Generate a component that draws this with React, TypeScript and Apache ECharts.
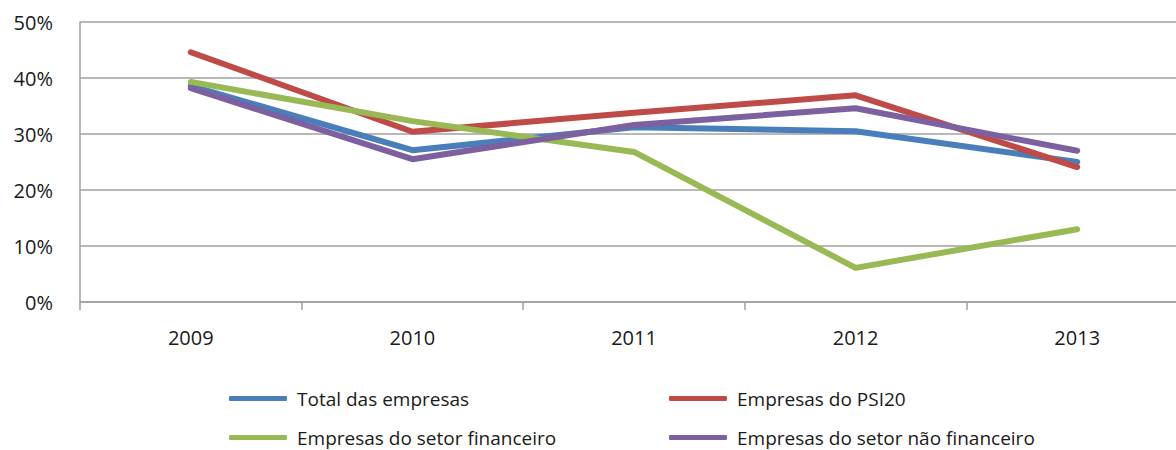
import React, { useEffect, useRef } from "react";
import * as echarts from "echarts";

const years = ["2009", "2010", "2011", "2012", "2013"];
const totalEmpresas = [38.6, 27.1, 31.2, 30.5, 25.0];
const empresasPSI20 = [44.6, 30.4, 33.8, 36.9, 24.1];
const setorFinanceiro = [39.3, 32.3, 26.8, 6.1, 13.0];
const setorNaoFinanceiro = [38.2, 25.5, 31.6, 34.6, 27.0];
const seriesNames = [
  "Total das empresas",
  "Empresas do PSI20",
  "Empresas do setor financeiro",
  "Empresas do setor não financeiro",
];
const colors = ["#4a7ebb", "#be4b48", "#98b954", "#7d60a0"];

export default function App() {
  const ref = useRef<HTMLDivElement>(null);
  useEffect(() => {
    if (!ref.current) return;
    const chart = echarts.init(ref.current, undefined, { renderer: "svg" });
    const datasets = [totalEmpresas, empresasPSI20, setorFinanceiro, setorNaoFinanceiro];
    const legendPos = [
      { left: 224, top: 384 },
      { left: 664, top: 384 },
      { left: 224, top: 423 },
      { left: 664, top: 423 },
    ];
    const font = "'Open Sans', 'Noto Sans', sans-serif";
    chart.setOption({
      animation: false,
      backgroundColor: "#ffffff",
      grid: { left: 80, right: 12, top: 22, bottom: 148, containLabel: false },
      xAxis: {
        type: "category",
        data: years,
        boundaryGap: true,
        axisLine: { show: true, lineStyle: { color: "#a0a0a0", width: 1.5 } },
        axisTick: { show: true, length: 8, inside: false, lineStyle: { color: "#a0a0a0", width: 1.5 } },
        axisLabel: { color: "#1a1a1a", fontSize: 20, fontFamily: font, margin: 25 },
        splitLine: { show: false },
      },
      yAxis: {
        type: "value",
        min: 0,
        max: 50,
        interval: 10,
        axisLine: { show: true, lineStyle: { color: "#a0a0a0", width: 1.5 } },
        axisTick: { show: false },
        axisLabel: { color: "#1a1a1a", fontSize: 20, fontFamily: font, margin: 27, formatter: "{value}%" },
        splitLine: { show: true, lineStyle: { color: "#a0a0a0", width: 1.5 } },
      },
      legend: seriesNames.map((n, i) => ({
        data: [n],
        left: legendPos[i].left,
        top: legendPos[i].top,
        icon: "roundRect",
        itemWidth: 58,
        itemHeight: 5,
        textStyle: { color: "#1a1a1a", fontSize: 19, fontFamily: font, padding: [0, 0, 0, 5] },
        selectedMode: false,
      })),
      series: seriesNames.map((n, i) => ({
        name: n,
        type: "line",
        data: datasets[i],
        symbol: "none",
        color: colors[i],
        itemStyle: { color: colors[i] },
        lineStyle: { color: colors[i], width: 6, cap: "round", join: "round" },
        z: 2 + i,
      })),
    });
    return () => chart.dispose();
  }, []);
  return (
    <div style={{ position: "fixed", left: 0, top: 0, width: 1176, height: 450, overflow: "hidden", background: "#fff" }}>
      <div ref={ref} style={{ width: 1200, height: 450 }} />
    </div>
  );
}
